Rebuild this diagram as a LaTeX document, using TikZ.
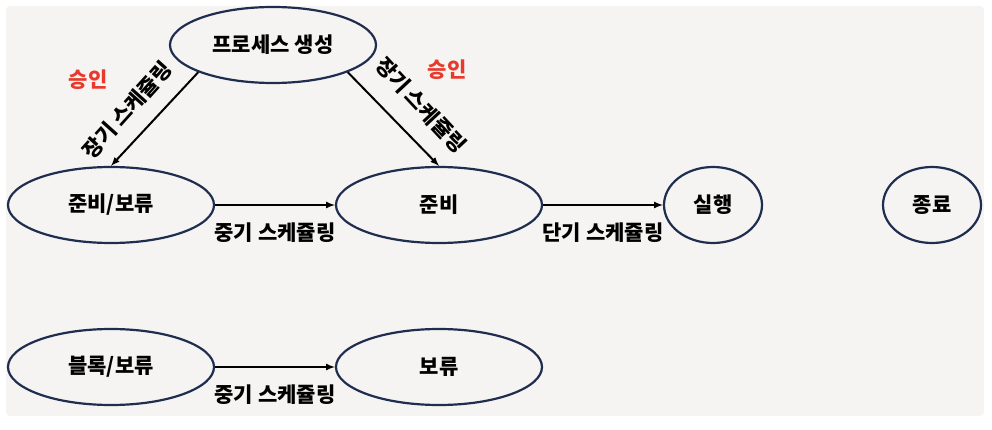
\documentclass[tikz,border=0pt]{standalone}
\usepackage{fontspec}
\setmainfont{Noto Sans CJK KR}
\usetikzlibrary{shapes.geometric}
\definecolor{navy}{RGB}{31,45,78}
\definecolor{approve}{RGB}{232,57,43}
\definecolor{panel}{RGB}{245,244,242}

\begin{document}
\begin{tikzpicture}[x=1pt,y=-1pt,
  lbl/.style={font=\fontsize{21}{25}\selectfont\bfseries},
  state/.style={lbl,ellipse,draw=navy,line width=2.2pt,minimum width=206pt,minimum height=76pt,inner sep=0pt},
  smallstate/.style={state,minimum width=98pt},
  flow/.style={->,>=latex,line width=2pt}]
  \useasboundingbox (0,0) rectangle (992,430);
  \fill[panel,rounded corners=4pt] (6,6) rectangle (984,416);

  % states
  \node[state] (create) at (273,45) {프로세스 생성};
  \node[state] (readysus) at (111,205) {준비/보류};
  \node[state] (ready) at (439,205) {준비};
  \node[smallstate] (run) at (713,205) {실행};
  \node[smallstate] (exit) at (932,205) {종료};
  \node[state] (blocksus) at (111,367) {블록/보류};
  \node[state] (blocked) at (439,367) {보류};

  % transitions
  \draw[flow] (create.200) -- (readysus.north);
  \draw[flow] (create.340) -- (ready.north);
  \draw[flow] (readysus) -- (ready) node[lbl,midway,below=13pt] (mt1) {중기 스케쥴링};
  \draw[flow] (ready) -- (run) node[lbl,midway,below=13pt] (st) {단기 스케쥴링};
  \draw[flow] (blocksus) -- (blocked) node[lbl,midway,below=13pt] (mt2) {중기 스케쥴링};

  % labels on the long term arrows
  \node[lbl,rotate=48] (lt1) at (127,110) {장기 스케쥴링};
  \node[lbl,rotate=-47] (lt2) at (421,105) {장기 스케쥴링};
  \node[lbl,text=approve] (ok1) at (88,80) {승인};
  \node[lbl,text=approve] (ok2) at (447,70) {승인};
\end{tikzpicture}
\end{document}
